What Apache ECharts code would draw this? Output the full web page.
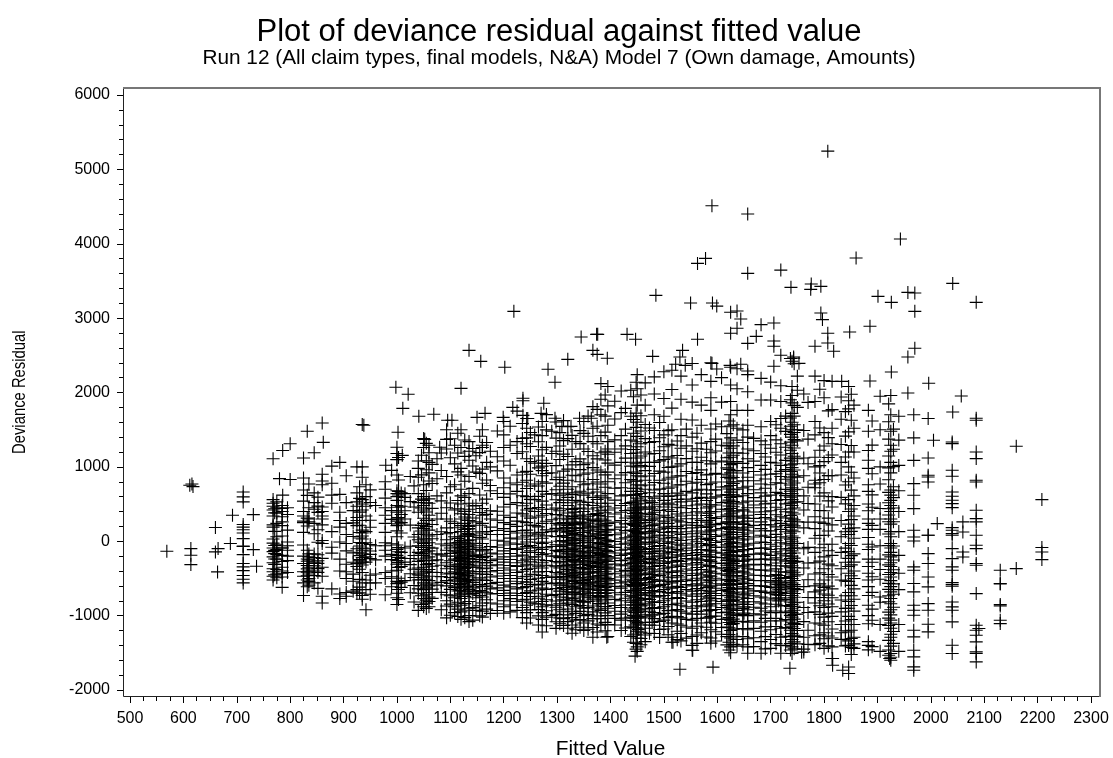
<!DOCTYPE html>
<html><head><meta charset="utf-8">
<script src="https://cdn.jsdelivr.net/npm/echarts@6/dist/echarts.min.js"></script>
<style>html,body{margin:0;padding:0;background:#fff}#c{width:1113px;height:758px}</style></head>
<body><div id="c"></div>
<script>
const chartTitle='Plot of deviance residual against fitted value';
const chartSubtitle='Run 12 (All claim types, final models, N&A) Model 7 (Own damage, Amounts)';
const xName='Fitted Value';
const yName='Deviance Residual';

const looseFitted=[1807,1590,1657,1943,1860,1578,1563,1719,1657,1738,1776,1794,1775,2041,1485,1901,1926,1957,1970,2085,1970,1550,1591,1599,1625,1637,1644,1706,1682,1794,1797,1807,1848,1886,1637,1625,1673,1657,1706,1706,1345,1374,1376,1431,1447,1563,1970,1957,1807,1783,1818,1535,1530,1522,1540,1367,1375,1394,1320,1479,1719,1743,1743,1753,1706,1590,1599,1624,1644,1657,1926,1886,1833,1996,2057,2041,2085,1957,1219,1135,1157,1202,998,1021,1011,1120,1283,1296,1236,1236,1275,1270,1217,1041,1069,1002,1165,1150,1103,1095,1199,1236,1245,1296,1342,1364,1309,1326,979,1000,1010,1000,1052,1080,1093,768,786,800,780,800,786,825,832,845,860,862,878,893,905,925,935,938,1000,569,612,616,618,614,614,614,660,660,665,664,692,688,731,731,737,1816,1816,1835,1846,1846,1923,1530,1592,1736,1446,1393,1554,1517,1758,2012,2005,1995,2160,2160,2208,2208,2208,2208,2130,2130,2130,2130,2130,2130,2130,2090];
const looseResidual=[5245,4510,4400,4063,3808,3803,3736,3646,3602,3414,3458,3427,3387,3467,3306,3293,3212,3346,3337,3212,3091,3203,3203,3162,3078,3095,2988,2934,2912,3068,2980,2796,2813,2890,2863,2796,2755,2661,2692,2621,2746,2782,2782,2782,2715,2715,2594,2477,2665,2621,2554,2567,2477,2379,2365,2567,2513,2460,2446,2486,2500,2477,2460,2392,2352,2392,2316,2365,2379,2289,2275,2154,2150,2124,1953,1738,1653,1993,3091,2567,2419,2339,2070,1976,1787,2056,2312,2137,1922,1890,1855,1720,1800,1680,1707,1465,1720,1666,1626,1626,1666,1693,1650,1653,1653,1653,1545,1545,1021,1263,1155,1097,1370,1263,1370,1110,1220,1310,842,830,620,1120,1480,1190,1590,1330,1010,1060,880,1000,1570,1560,1100,-134,753,770,735,-99,-188,-314,184,-143,-99,-412,350,-31,358,-112,-336,-1577,-1667,-1734,-1779,-1690,-1577,-1720,-1693,-1707,-1545,-1290,-1465,-1357,-1492,237,1357,80,1277,-368,560,-85,-144,-247,-851,-390,-569,-575,-869,-1062,-1107,-1174,-488];

const r712=[663,596,529,225,190,155,110,35,-70,-65,-180,-300,-345,-395,-460,-510,-560];
const r768=[560,510,470,420,340,220,190,30,-25,-90,-140,-210,-290,-370,-410,-470,-520];
const r775=[530,450,380,240,60,-40,-110,-180,-240,-380,-440,-490];
const r785=[480,440,400,330,260,210,70,-80,-95,-190,-270,-350,-400,-430,-480,-620];
const r795=[450,360,150,-10,-60,-120,-200,-260,-420];
const r825=[850,690,540,400,340,270,250,120,-50,-200,-300,-410,-470,-560,-730];
const r835=[770,450,300,260,-170,-210,-250,-300,-350,-400,-440,-500,-540,-590];
const r845=[650,520,430,240,100,-170,-220,-280,-330,-400,-460,-560];
const r860=[900,810,760,460,400,340,300,220,10,-30,-230,-350,-470,-740,-830];
const r878=[780,620,510,130,-80,-160,-640];
const r893=[630,390,280,190,-10,-240,-400,-710,-770];
const r905=[520,240,90,-30,-130,-310,-410,-500,-690,-740];
const r925=[650,530,470,320,280,210,-100,-300,-340,-650,-700];
const r935=[1000,860,560,500,420,280,150,110,70,30,-30,-90,-120,-170,-220,-280,-320,-420,-560,-730,-780];
const r942=[760,600,470,340,130,-20,-100,-210,-280,-520,-650,-920];
const r960=[480,-60,-250,-440,-560];
const r978=[800,700,580,450,350,240,120,-20,-60,-120,-200,-420,-500,-720];
const r1000=[1180,890,680,640,600,550,480,390,300,270,210,140,60,-50,-110,-190,-260,-310,-390,-540,-570,-700,-760,-850];
const r1008=[650,470,360,250,110,-150,-230,-340,-550,-620];
const r1015=[640,590,410,300,-90,-280,-530];
const r1040=[1080,980,860,640,520,390,180,90,20,-60,-150,-270,-360,-450,-520,-640,-700,-930];
const r1050=[1380,1260,760,600,550,480,420,310,240,170,110,40,-30,-110,-190,-260,-350,-430,-490,-560,-650,-770,-880];
const r1060=[1290,1190,1060,920,810,570,510,350,280,150,70,-20,-80,-130,-210,-300,-380,-470,-530,-600,-690,-750,-810,-880];
const r1075=[1110,840,610,300,90,-170,-250,-420,-590];
const r1093=[1500,1240,870,650,450,300,180,100,20,-60,-120,-200,-290,-370,-440,-530,-600,-720,-800,-870,-1030];
const r1108=[1290,1040,760,420,240,60,-50,-130,-240,-320,-410,-510,-620,-760,-880,-960];
const r1120=[1500,1260,980,890,700,610,500,370,300,210,130,60,10,-50,-100,-170,-220,-270,-340,-390,-450,-500,-570,-630,-700,-770,-860,-950,-1050];
const r1135=[1340,1210,1090,870,640,510,430,360,280,200,170,90,20,-40,-90,-160,-230,-290,-330,-410,-480,-530,-590,-650,-720,-810,-900,-1000,-1080];
const r1148=[1150,930,480,260,80,-60,-190,-350,-520,-680,-760,-930];
const r1160=[1500,1290,1260,970,780,510,440,350,240,110,30,-30,-130,-220,-290,-370,-440,-520,-610,-680,-750,-830,-940,-1020];
const r1175=[1210,1000,750,680,410,300,190,90,-70,-160,-260,-330,-410,-480,-570,-640,-710,-830,-970];
const r1200=[1610,1430,1260,1080,850,720,590,460,350,250,170,90,0,-50,-130,-210,-280,-360,-430,-500,-590,-660,-730,-800,-880,-968];
const r1225=[1750,1340,1180,890,760,670,520,380,270,200,110,30,-40,-110,-200,-290,-340,-420,-500,-570,-640,-730,-810,-930];
const r1243=[1650,1520,1390,1310,1110,940,820,710,600,510,420,340,250,150,80,-10,-70,-150,-240,-310,-380,-470,-550,-610,-690,-780,-860,-960,-1100];
const r1258=[1430,1050,770,560,400,210,70,-90,-210,-320,-450,-580,-700,-840];
const r1272=[1610,1420,1230,1090,1010,950,880,800,670,540,430,350,240,120,40,-30,-110,-180,-290,-360,-460,-540,-630,-740,-810,-880,-960,-1050,-1220];
const r1290=[1480,1180,920,640,430,290,130,-70,-200,-330,-470,-570,-730,-860,-1000];
const r1305=[1460,1280,1100,860,740,620,520,410,310,220,150,60,0,-70,-140,-220,-290,-360,-440,-510,-590,-670,-750,-840,-920,-1030,-1110];
const r1320=[1540,1380,1140,970,820,700,590,480,380,290,210,130,50,-20,-90,-160,-240,-310,-380,-450,-520,-600,-680,-760,-830,-910,-990,-1080,-1170];
const r1335=[1340,1070,880,650,550,440,340,240,170,90,10,-60,-130,-210,-280,-350,-420,-490,-570,-640,-720,-800,-880,-970,-1060,-1190];
const r1350=[1610,1450,1240,1030,900,760,620,490,400,300,220,120,60,-20,-100,-170,-230,-310,-370,-450,-530,-590,-670,-750,-820,-900,-1000,-1100,-1200];
const r1367=[1810,1520,1340,1150,990,830,700,590,480,360,280,190,100,30,-50,-120,-190,-270,-340,-410,-470,-550,-630,-700,-780,-870,-950,-1040,-1160,-1290];
const r1382=[2120,1910,1700,1420,1190,930,770,610,510,410,300,230,130,50,-30,-100,-180,-250,-320,-380,-460,-540,-610,-690,-760,-840,-930,-1040,-1130];
const r1395=[2080,1820,1560,1340,1240,1170,1050,930,800,640,510,420,330,240,150,90,10,-60,-140,-210,-270,-350,-430,-500,-570,-660,-750,-830,-900,-1000,-1120,-1280];
const r1420=[2020,1730,1420,1240,1060,890,720,610,480,390,280,190,110,30,-40,-120,-190,-260,-330,-410,-480,-560,-630,-720,-800,-890,-980,-1060,-1200];
const r1438=[2030,1680,1360,1180,1010,830,670,520,420,340,240,150,60,-10,-80,-160,-230,-300,-370,-440,-510,-580,-660,-740,-820,-910,-1020,-1150,-1280];
const r1450=[2240,2050,1830,1600,1410,1270,1120,1000,880,760,670,580,500,420,350,280,200,120,60,-10,-70,-130,-190,-250,-320,-380,-440,-500,-570,-640,-700,-760,-830,-900,-960,-1030,-1110,-1210,-1300,-1420,-1480];
const r1465=[2130,1830,1570,1380,1200,1060,950,820,700,600,510,430,330,250,170,100,30,-40,-110,-170,-240,-300,-360,-430,-500,-560,-630,-690,-770,-840,-910,-990,-1090,-1170,-1260,-1350];
const r1482=[2210,1980,1700,1490,1340,1180,1060,910,790,690,580,470,390,310,220,140,70,0,-70,-140,-210,-280,-340,-410,-470,-540,-610,-680,-750,-820,-890,-960,-1040,-1130,-1240];
const r1500=[2280,1920,1680,1430,1270,1100,930,780,640,550,460,350,270,190,120,40,-30,-100,-170,-230,-300,-370,-440,-520,-580,-650,-730,-800,-880,-970,-1060,-1180];
const r1515=[2300,2040,1790,1500,1290,1120,1000,860,730,610,490,400,300,200,130,50,-20,-90,-150,-220,-280,-350,-420,-490,-560,-630,-700,-770,-850,-930,-1010,-1100,-1290,-1357];
const r1532=[2220,1910,1640,1420,1250,1040,880,760,620,530,450,340,260,170,90,10,-60,-130,-200,-270,-340,-410,-480,-540,-620,-700,-770,-860,-940,-1030,-1130,-1240,-1340];
const r1553=[2390,2100,1870,1630,1400,1210,1060,910,780,650,540,440,350,250,180,100,20,-50,-120,-190,-250,-320,-390,-460,-530,-600,-670,-740,-820,-900,-980,-1060,-1170,-1280,-1400,-1465];
const r1570=[2240,1830,1560,1320,1130,960,830,700,590,500,380,280,190,110,40,-30,-110,-180,-250,-310,-380,-450,-520,-590,-660,-740,-810,-880,-980,-1100,-1230];
const r1588=[2400,2150,1930,1760,1510,1340,1190,1040,900,780,690,580,490,400,320,230,150,90,10,-60,-130,-210,-270,-340,-410,-470,-530,-600,-670,-730,-800,-870,-930,-1010,-1090,-1190,-1300,-1370];
const r1608=[2200,1870,1540,1290,1080,900,730,620,520,430,330,240,170,80,0,-80,-160,-220,-300,-370,-440,-520,-590,-660,-730,-810,-890,-960,-1050,-1160,-1250];
const r1625=[2340,2100,1880,1700,1550,1390,1250,1130,1030,920,840,750,660,590,510,440,370,300,230,160,90,30,-30,-90,-150,-210,-260,-320,-380,-430,-480,-540,-590,-650,-700,-760,-810,-870,-920,-990,-1060,-1120,-1200,-1300,-1420,-1500];
const r1637=[2320,2050,1760,1520,1360,1190,1070,950,800,700,600,500,410,340,260,180,120,40,-20,-80,-140,-200,-270,-330,-400,-460,-520,-580,-640,-710,-780,-850,-930,-1000,-1080,-1180,-1320,-1410];
const r1657=[2240,2010,1760,1560,1400,1240,1110,990,860,740,640,540,450,350,270,190,110,30,-50,-110,-180,-240,-310,-370,-440,-510,-570,-640,-700,-770,-850,-920,-1000,-1090,-1190,-1310,-1420,-1505];
const r1682=[2190,1900,1540,1350,1180,1020,890,770,650,540,450,360,260,170,80,-10,-90,-160,-240,-310,-390,-460,-530,-600,-670,-750,-830,-900,-990,-1090,-1210,-1350,-1505];
const r1700=[2140,1900,1610,1420,1250,1060,900,760,620,510,410,300,220,140,50,-40,-110,-190,-250,-330,-400,-470,-550,-620,-700,-790,-880,-960,-1070,-1190,-1320,-1440];
const r1719=[2090,1880,1650,1520,1310,1160,1020,940,870,780,640,560,430,330,240,160,60,-20,-100,-170,-250,-330,-410,-490,-560,-600,-650,-690,-730,-790,-870,-960,-1070,-1170,-1290,-1400,-1505];
const r1740=[2420,2080,1960,1860,1720,1600,1500,1400,1290,1180,1080,990,900,810,720,640,560,480,390,310,230,150,70,0,-60,-130,-200,-260,-330,-390,-440,-500,-560,-610,-670,-730,-790,-850,-900,-960,-1020,-1090,-1150,-1240,-1320,-1420,-1510];
const r1750=[2220,2030,1800,1500,1350,1110,860,700,530,260,-30,-270,-450,-650,-820,-980,-1120,-1200,-1280,-1380];
const r1762=[1980,1490,1120,880,610,420,180,-100,-360,-610,-890,-1080,-1290,-1450,-1490];
const r1783=[2220,1880,1610,1430,1130,1000,820,770,720,500,330,170,40,-150,-290,-440,-600,-680,-760,-830,-950,-1100,-1270,-1390];
const r1800=[2160,1930,1460,1280,1070,830,650,410,240,80,-40,-210,-370,-520,-620,-710,-800,-890,-1020,-1130,-1230,-1310,-1440];
const r1815=[2150,1770,1520,1310,1160,880,600,460,220,-40,-190,-330,-480,-640,-760,-880,-1010,-1180,-1300,-1420,-1577];
const r1832=[1940,1640,1300,1060,890,590,280,60,-150,-370,-520,-790,-950,-1120,-1230,-1320];
const r1846=[2080,1890,1780,1470,1200,1000,800,560,400,230,170,90,-30,-140,-230,-340,-430,-540,-690,-810,-900,-1010,-1120,-1220,-1340,-1400];
const r1856=[1830,1520,1200,850,610,480,340,180,40,-170,-280,-400,-500,-640,-780,-940,-1120,-1290,-1380,-1440];
const r1883=[1760,1480,1220,1090,980,760,670,500,410,300,240,160,50,-40,-110,-240,-340,-430,-520,-610,-730,-860,-1000,-1110,-1350,-1400,-1460];
const r1905=[1950,1500,1000,770,440,300,160,-60,-240,-380,-510,-750,-820,-1120,-1480];
const r1925=[1960,1700,1480,1290,1210,1060,920,690,620,550,480,400,300,230,130,60,-30,-90,-150,-210,-290,-340,-420,-480,-530,-610,-680,-770,-840,-920,-990,-1060,-1100,-1170,-1250,-1290,-1410,-1510,-1560,-1600];
const r1940=[1680,1360,1020,680,400,130,-190,-430,-650,-1120,-1480];
const r1968=[1700,1390,1088,775,618,439,148,58,4,-345,-390,-569,-681,-860,-928,-995,-1196,-1286,-1465,-1555,-1689,-1734];
const r1995=[1650,1120,887,864,797,80,-166,-300,-480,-614,-838,-928,-1116,-1219];
const r2040=[1335,1312,954,873,663,605,551,506,452,183,148,103,80,-99,-233,-345,-390,-556,-583,-605,-816,-883,-928,-1084,-1398,-1510];
const r2060=[260,125,-144,-211];
const r2085=[1626,1200,1111,820,797,416,304,260,80,-54,-99,-300,-323,-704,-1129,-1196,-1263,-1353,-1488,-1510,-1622];

const d771=[437,382,133,-57,-123,-167,-238,-311,-452];
const d832=[617,311,205,-121,-238,-268,-327,-372,-415,-463,-521,-612];
const d852=[593,472,388,155,-14,-181,-263,-297,-368,-419,-633];
const d918=[412,247,64,-156,-283,-442,-538,-671];
const d930=[733,577,391,216,118,43,-17,-64,-148,-193,-247,-263,-303,-377,-512,-617,-694];
const d950=[691,522,283,188,-43,-132,-176,-233,-458,-561,-713];
const d990=[953,412,294,-33,-176,-247,-401,-477,-611];
const d1003=[1127,823,671,622,457,318,233,-86,-141,-217,-288,-351,-497,-563,-648,-783];
const d1025=[870,533,217,-67,-231,-314,-436,-692];
const d1032=[744,461,58,-192,-377,-488,-594,-816];
const d1046=[1157,893,566,447,213,137,-12,-83,-167,-238,-383,-414,-463,-518,-602,-733,-849];
const d1055=[1316,1083,961,682,517,393,281,196,87,17,-57,-143,-226,-314,-403,-511,-579,-627,-712,-791,-832,-903];
const d1066=[1033,777,442,226,33,-92,-261,-337,-418,-561,-644,-768];
const d1083=[1187,952,543,377,127,-36,-183,-322,-476,-553,-688,-921];
const d1100=[1378,1123,732,514,268,118,-27,-91,-163,-262,-341,-428,-487,-566,-647,-733,-846,-994];
const d1114=[1452,1187,933,547,437,182,39,-18,-77,-143,-202,-256,-318,-377,-433,-471,-538,-602,-668,-737,-821,-913,-1012];
const d1127=[1362,1141,806,588,402,327,241,157,81,-13,-67,-131,-187,-252,-303,-366,-417,-468,-542,-613,-683,-742,-838,-927,-1027];
const d1142=[1248,1011,711,473,313,127,-26,-112,-207,-272,-348,-437,-553,-627,-704,-892,-1061];
const d1155=[1412,1192,912,621,387,216,52,-87,-181,-247,-323,-408,-492,-583,-662,-729,-867,-1003];
const d1168=[1327,1061,823,567,361,131,-113,-203,-287,-361,-447,-526,-603,-692,-787,-912];
const d1188=[1483,1137,946,642,403,283,144,13,-81,-172,-241,-318,-393,-467,-553,-627,-703,-843,-931];
const d1212=[1547,1291,1022,783,637,496,321,227,133,42,-23,-97,-164,-246,-327,-387,-461,-538,-613,-698,-771,-857,-949];
const d1235=[1583,1383,1203,927,793,612,477,368,262,143,57,-36,-92,-187,-263,-331,-403,-477,-544,-623,-702,-788,-891,-1027];
const d1250=[1463,1273,1072,901,743,563,442,311,217,112,27,-57,-127,-212,-277,-363,-443,-512,-583,-667,-743,-818,-923,-1031];
const d1265=[1537,1338,1147,987,742,603,453,327,193,96,-13,-83,-151,-248,-337,-412,-497,-587,-656,-767,-843,-917,-1003,-1127];
const d1280=[1703,1497,1262,1047,911,782,633,487,373,268,153,72,-13,-87,-168,-261,-323,-407,-488,-562,-647,-713,-787,-856,-934,-1021,-1137];
const d1298=[1603,1387,1211,1017,828,693,557,447,358,241,173,63,-47,-123,-198,-272,-343,-421,-487,-563,-637,-718,-803,-887,-983,-1083,-1171];
const d1312=[1622,1353,1171,943,781,647,553,437,343,253,167,78,11,-53,-116,-203,-268,-327,-411,-473,-557,-621,-712,-787,-861,-947,-1041,-1133];
const d1328=[1423,1237,1027,887,733,627,517,427,331,257,173,102,27,-37,-113,-183,-257,-322,-397,-462,-541,-613,-691,-773,-851,-942,-1027,-1127,-1237];
const d1343=[1487,1313,1107,963,801,673,537,448,351,247,182,81,17,-61,-138,-207,-267,-353,-413,-487,-553,-627,-711,-793,-863,-943,-1053,-1157];
const d1358=[1683,1412,1207,1053,917,773,647,523,433,337,243,147,71,7,-73,-148,-213,-291,-362,-431,-513,-577,-648,-733,-811,-891,-983,-1071,-1183];
const d1375=[1773,1547,1311,1107,957,797,663,561,451,373,263,163,83,-17,-77,-153,-226,-301,-353,-427,-497,-573,-653,-731,-803,-911,-1003,-1113,-1221];
const d1390=[1967,1683,1467,1211,1093,893,727,583,471,383,283,207,123,27,-42,-117,-193,-263,-347,-403,-483,-547,-623,-703,-787,-877,-963,-1091,-1203];
const d1408=[1883,1643,1363,1197,1023,841,713,553,447,367,257,161,87,-3,-83,-157,-227,-307,-373,-437,-523,-607,-693,-781,-863,-941,-1037,-1127];
const d1428=[1787,1507,1283,1117,923,787,623,507,413,313,233,143,47,-27,-107,-173,-253,-317,-391,-457,-537,-603,-687,-767,-857,-947,-1033,-1167];
const d1443=[1943,1637,1453,1233,1063,931,811,713,617,527,447,373,303,223,143,83,13,-53,-103,-163,-223,-283,-347,-411,-467,-533,-597,-667,-727,-791,-857,-927,-997,-1067,-1163,-1261,-1357];
const d1448=[2137,1723,1531,1337,1187,1043,913,807,713,627,541,457,387,317,247,163,97,27,-37,-93,-153,-217,-277,-341,-403,-463,-527,-603,-663,-733,-803,-867,-937,-1007,-1083,-1163,-1247,-1373,-1451];
const d1457=[1967,1687,1483,1311,1147,1017,867,747,643,553,463,367,287,193,127,53,-11,-87,-137,-211,-273,-337,-397,-453,-523,-593,-661,-721,-787,-869,-947,-1031,-1127,-1223,-1307,-1391];
const d1473=[1523,1327,1173,1007,877,757,653,543,451,377,277,207,113,47,-23,-97,-157,-233,-287,-363,-427,-487,-557,-623,-707,-783,-857,-941,-1017,-1127,-1237];
const d1492=[1597,1391,1217,1081,943,821,701,607,497,413,327,243,163,83,17,-57,-127,-197,-263,-327,-401,-461,-531,-597,-677,-747,-823,-901,-981,-1077,-1187,-1293];
const d1508=[1487,1303,1137,991,837,713,601,513,423,321,241,171,73,-7,-77,-143,-213,-277,-347,-411,-481,-541,-617,-691,-773,-853,-933,-1027,-1147,-1257];
const d1525=[1347,1153,1011,877,757,647,563,457,367,283,197,111,31,-41,-113,-183,-257,-321,-397,-461,-533,-607,-677,-757,-833,-917,-1013,-1113,-1211,-1323];
const d1542=[1507,1283,1111,937,807,671,567,477,383,303,217,127,57,-27,-93,-167,-233,-303,-373,-437,-511,-583,-651,-723,-803,-881,-967,-1051,-1153,-1303];
const d1562=[1453,1243,1061,923,793,687,577,487,397,303,213,137,67,-7,-77,-153,-227,-287,-353,-431,-497,-573,-637,-707,-787,-867,-943,-1037,-1143,-1261,-1373];
const d1580=[1237,1083,893,761,637,547,447,347,257,187,91,23,-57,-127,-203,-263,-337,-417,-483,-551,-623,-703,-773,-857,-937,-1033,-1157,-1287];
const d1597=[1577,1373,1213,1067,913,797,691,597,487,397,307,223,151,63,-17,-83,-147,-217,-293,-357,-431,-497,-571,-631,-703,-771,-841,-917,-1007,-1103,-1217,-1341];
const d1618=[1447,1283,1123,987,857,733,627,527,431,353,257,183,97,23,-47,-117,-187,-257,-323,-391,-457,-521,-587,-653,-727,-793,-863,-953,-1047,-1153,-1283,-1393];
const d1622=[1617,1321,1187,1067,967,877,797,703,623,553,473,407,337,263,193,127,57,-7,-63,-123,-181,-237,-291,-351,-407,-457,-513,-567,-623,-677,-733,-787,-843,-897,-957,-1027,-1093,-1163,-1253,-1357,-1463];
const d1630=[1567,1283,1157,1047,947,857,777,693,623,533,463,393,327,251,187,117,53,-13,-71,-127,-187,-241,-297,-363,-417,-467,-527,-577,-637,-693,-747,-797,-857,-907,-977,-1047,-1107,-1183,-1277,-1387];
const d1648=[1497,1327,1183,1047,917,813,717,611,517,423,327,243,163,87,17,-67,-127,-197,-267,-331,-403,-477,-547,-613,-683,-753,-831,-903,-987,-1077,-1173,-1283,-1391];
const d1668=[1383,1217,1077,937,813,693,587,487,393,307,213,137,57,-27,-97,-173,-247,-317,-383,-457,-527,-597,-667,-733,-813,-887,-977,-1071,-1171,-1297,-1417];
const d1690=[1297,1133,967,837,713,607,503,397,317,223,141,67,-17,-93,-173,-241,-313,-387,-463,-527,-607,-687,-763,-843,-937,-1037,-1151,-1283,-1447];
const d1710=[1567,1363,1197,1053,907,787,657,547,457,357,277,193,93,13,-67,-143,-223,-293,-371,-447,-527,-577,-627,-673,-717,-773,-847,-937,-1037,-1147,-1253,-1377];
const d1728=[1683,1477,1263,1087,963,833,697,613,503,397,313,213,127,43,-37,-117,-197,-267,-337,-417,-487,-557,-627,-703,-783,-863,-951,-1053,-1161,-1277,-1403];
const d1737=[2457,1903,1657,1547,1437,1333,1223,1117,1027,937,853,757,673,593,513,433,347,267,187,107,27,-33,-97,-163,-233,-297,-357,-413,-473,-533,-587,-643,-697,-763,-817,-877,-937,-997,-1057,-1123,-1197,-1283,-1377,-1463];
const d1744=[2387,1827,1683,1567,1463,1367,1253,1143,1043,957,873,783,693,611,527,447,367,287,207,127,47,-27,-87,-157,-227,-283,-357,-417,-467,-527,-583,-637,-703,-753,-827,-873,-927,-983,-1047,-1107,-1173,-1263,-1353,-1447];
const d1770=[1867,1373,1043,727,507,257,-83,-293,-517,-757,-957,-1197,-1387];
const d1792=[2043,1523,1223,1017,917,787,607,413,257,77,-87,-267,-423,-573,-657,-757,-867,-983,-1113,-1257,-1373];
const d1808=[1753,1393,1127,883,543,311,137,-127,-307,-447,-603,-727,-843,-967,-1083,-1273,-1407];
const d1840=[1743,1413,1133,757,503,127,-93,-283,-533,-733,-903,-1073,-1203,-1317,-1407];
const d1851=[1977,1627,1287,927,687,433,291,133,-57,-193,-317,-463,-593,-733,-863,-1053,-1197,-1307,-1427,-1523];
const d1890=[1617,1293,907,623,457,213,-77,-283,-477,-687,-913,-1063,-1417];
const d1921=[1847,1607,1373,1147,987,827,657,517,437,353,263,97,-57,-183,-317,-447,-567,-647,-733,-813,-953,-1033,-1133,-1333,-1463,-1533];
const d1930=[1507,1237,1003,733,587,447,263,-63,-253,-383,-573,-713,-887,-1213,-1373];

const e1118=[-12,-41,-83,-118,-152,-196,-233,-261,-302,-348,-372,-421,-447,-493,-532,-581,-617,-664,-713];
const e1133=[280,214,167,103,66,8,-27,-71,-109,-143,-187,-241,-277,-313,-352,-397,-437,-461,-513,-557,-608,-671];
const e1318=[240,183,121,73,-6,-47,-113,-171,-219,-273,-337,-381,-437,-493,-573,-647,-711,-793];
const e1332=[391,307,226,144,88,33,-28,-92,-137,-198,-247,-316,-359,-428,-471,-527,-613,-688,-767];
const e1348=[312,257,176,118,41,-13,-62,-148,-192,-264,-311,-372,-443,-508,-567,-641,-708,-812];
const e1362=[296,203,137,62,-21,-86,-131,-201,-253,-328,-383,-416,-483,-552,-603,-693,-759];
const e1378=[348,273,191,97,36,-33,-103,-163,-222,-287,-343,-408,-463,-521,-597,-661,-741,-838];
const e1392=[216,158,76,-8,-71,-126,-206,-248,-317,-371,-451,-518,-588,-652,-733];
const e1446=[487,408,336,268,211,132,67,12,-42,-113,-173,-238,-293,-362,-427,-483,-553,-612,-683,-752,-821,-893,-957,-1043,-1127];
const e1452=[446,371,303,233,171,102,41,-23,-78,-143,-207,-263,-331,-391,-447,-517,-583,-643,-727,-793,-851,-923,-1013,-1093,-1187];
const e1478=[521,433,358,287,213,131,53,-17,-103,-163,-247,-303,-383,-447,-512,-587,-663,-731,-813,-903,-993,-1091];
const e1585=[463,377,281,203,127,38,-43,-117,-181,-251,-327,-401,-463,-521,-613,-683,-753,-843,-921,-1021];
const e1650=[407,311,227,147,63,-37,-111,-207,-263,-347,-423,-497,-567,-637,-721,-813,-883,-967];
const e1715=[-461,-503,-537,-583,-617,-653,-688,-723,-761,-803];

const stackFitted=[712,768,775,785,795,825,835,845,860,878,893,905,925,935,942,960,978,1000,1008,1015,1040,1050,1060,1075,1093,1108,1120,1135,1148,1160,1175,1200,1225,1243,1258,1272,1290,1305,1320,1335,1350,1367,1382,1395,1420,1438,1450,1465,1482,1500,1515,1532,1553,1570,1588,1608,1625,1637,1657,1682,1700,1719,1740,1750,1762,1783,1800,1815,1832,1846,1856,1883,1905,1925,1940,1968,1995,2040,2060,2085,
771,832,852,918,930,950,990,1003,1025,1032,1046,1055,1066,1083,1100,1114,1127,1142,1155,1168,1188,1212,1235,1250,1265,1280,1298,1312,1328,1343,1358,1375,1390,1408,1428,1443,1448,1457,1473,1492,1508,1525,1542,1562,1580,1597,1618,1622,1630,1648,1668,1690,1710,1728,1737,1744,1770,1792,1808,1840,1851,1890,1921,1930,
1118,1133,1318,1332,1348,1362,1378,1392,1446,1452,1478,1585,1650,1715];
const stackResiduals=[r712,r768,r775,r785,r795,r825,r835,r845,r860,r878,r893,r905,r925,r935,r942,r960,r978,r1000,r1008,r1015,r1040,r1050,r1060,r1075,r1093,r1108,r1120,r1135,r1148,r1160,r1175,r1200,r1225,r1243,r1258,r1272,r1290,r1305,r1320,r1335,r1350,r1367,r1382,r1395,r1420,r1438,r1450,r1465,r1482,r1500,r1515,r1532,r1553,r1570,r1588,r1608,r1625,r1637,r1657,r1682,r1700,r1719,r1740,r1750,r1762,r1783,r1800,r1815,r1832,r1846,r1856,r1883,r1905,r1925,r1940,r1968,r1995,r2040,r2060,r2085,
d771,d832,d852,d918,d930,d950,d990,d1003,d1025,d1032,d1046,d1055,d1066,d1083,d1100,d1114,d1127,d1142,d1155,d1168,d1188,d1212,d1235,d1250,d1265,d1280,d1298,d1312,d1328,d1343,d1358,d1375,d1390,d1408,d1428,d1443,d1448,d1457,d1473,d1492,d1508,d1525,d1542,d1562,d1580,d1597,d1618,d1622,d1630,d1648,d1668,d1690,d1710,d1728,d1737,d1744,d1770,d1792,d1808,d1840,d1851,d1890,d1921,d1930,
e1118,e1133,e1318,e1332,e1348,e1362,e1378,e1392,e1446,e1452,e1478,e1585,e1650,e1715];

const points=[];
looseFitted.forEach((f,i)=>points.push([f,looseResidual[i]]));
stackFitted.forEach((f,i)=>stackResiduals[i].forEach(v=>points.push([f,v])));

const FONT='"Liberation Sans",Arial,sans-serif';
const plain=v=>String(v);
const chart=echarts.init(document.getElementById('c'),null,{renderer:'canvas'});
chart.setOption({
  animation:false,backgroundColor:'#fff',
  title:{text:chartTitle,subtext:chartSubtitle,left:554,top:10,textAlign:'center',itemGap:-2,
    textStyle:{fontFamily:FONT,fontSize:31,fontWeight:'normal',color:'#000',lineHeight:34},
    subtextStyle:{fontFamily:FONT,fontSize:20.8,color:'#000',lineHeight:22}},
  grid:{left:130,right:22,top:95,bottom:68,outerBoundsMode:'none'},
  xAxis:{type:'value',min:500,max:2300,interval:100,offset:7,name:xName,nameLocation:'middle',nameGap:42,
    nameTextStyle:{fontFamily:FONT,fontSize:20.8,color:'#000'},
    axisLine:{show:false,onZero:false},splitLine:{show:false},
    axisTick:{show:true,length:6,lineStyle:{color:'#000',width:1}},
    minorTick:{show:true,splitNumber:4,length:4,lineStyle:{color:'#000',width:1}},
    axisLabel:{fontFamily:FONT,fontSize:16,color:'#000',margin:14,formatter:plain,showMinLabel:true,showMaxLabel:true,hideOverlap:false}},
  yAxis:{type:'value',min:-2000,max:6000,interval:1000,offset:7,
    axisLine:{show:false,onZero:false},splitLine:{show:false},
    axisTick:{show:true,length:6,lineStyle:{color:'#000',width:1}},
    minorTick:{show:true,splitNumber:5,length:4,lineStyle:{color:'#000',width:1}},
    axisLabel:{fontFamily:FONT,fontSize:16,color:'#000',margin:13,formatter:plain}},
  graphic:[
    {type:'polyline',silent:true,shape:{points:[[123.5,88],[123.5,696.5],[1100,696.5]]},style:{fill:'none',stroke:'#222',lineWidth:1}},
    {type:'polyline',silent:true,shape:{points:[[123,88],[1100,88],[1100,697]]},style:{fill:'none',stroke:'#777',lineWidth:2}},
    {type:'text',silent:true,x:10,y:454,rotation:Math.PI/2,scaleX:0.78,scaleY:1,
      style:{text:yName,font:'19px '+FONT,fill:'#000',textAlign:'left',textVerticalAlign:'top'}}
  ],
  series:[{type:'scatter',data:points,silent:true,progressive:0,large:false,
    symbol:'path://M0 6H12M6 0V12',symbolSize:13,
    itemStyle:{color:'none',borderColor:'#000',borderWidth:1.1,opacity:1}}]
});
</script></body></html>
